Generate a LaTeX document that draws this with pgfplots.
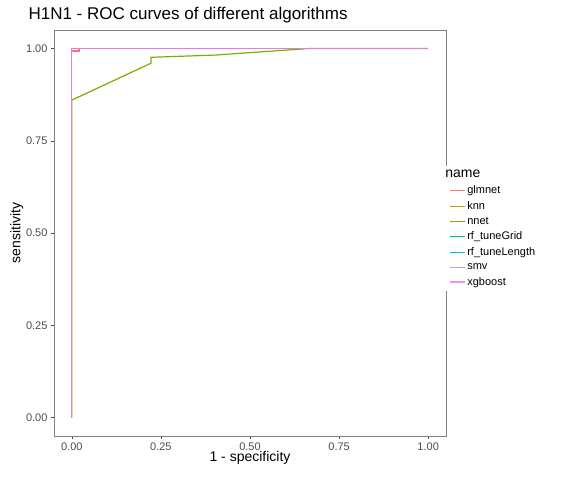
\documentclass[border=0pt]{standalone}
\usepackage{pgfplots}
\pgfplotsset{compat=1.18}
\usepackage{fontspec}
\setmainfont{Liberation Sans}
\definecolor{c1}{HTML}{F8766D}\definecolor{c2}{HTML}{C49A00}\definecolor{c3}{HTML}{7CAE00}
\definecolor{c4}{HTML}{00C08B}\definecolor{c5}{HTML}{00B4F0}\definecolor{c6}{HTML}{B79FFF}\definecolor{c7}{HTML}{F374DC}
\begin{document}
\begin{tikzpicture}[x=1pt,y=1pt]
\path[use as bounding box] (0,0) rectangle (576,480);
\begin{axis}[at={(54pt,44pt)},anchor=south west,scale only axis,width=392pt,height=406pt,
xmin=-0.05,xmax=1.05,ymin=-0.05,ymax=1.05,
xtick={0,0.25,0.5,0.75,1},ytick={0,0.25,0.5,0.75,1},
xticklabels={0.00,0.25,0.50,0.75,1.00},yticklabels={0.00,0.25,0.50,0.75,1.00},
xtick pos=bottom,ytick pos=left,
tick label style={font=\fontsize{11}{12}\selectfont,text=black!70},
tick align=outside,major tick length=3pt,tick style={black!70},
axis line style={black!50},
xlabel={1 - specificity},ylabel={sensitivity},
label style={font=\fontsize{14}{15}\selectfont},
xlabel style={yshift=6pt},ylabel style={yshift=-4pt},
title={H1N1 - ROC curves of different algorithms},
title style={font=\fontsize{17}{18}\selectfont,at={(0,1)},anchor=south west,xshift=-29pt,yshift=-3pt},
legend style={at={(1.0,0.665)},anchor=north west,draw=none,font=\fontsize{11}{12}\selectfont,row sep=2.3pt},
legend cell align=left,legend image post style={line width=1.1pt},
legend image code/.code={\draw[#1,line width=1.1pt](0pt,0pt)--(15pt,0pt);}]
\addlegendimage{empty legend}\addlegendentry{\hspace{-22pt}\fontsize{14}{15}\selectfont name}
\addplot[c1,line width=1.2pt] coordinates {(0,0)(0,0.993)(0.02,0.993)(0.02,1)(1,1)};\addlegendentry{glmnet}
\addplot[c2,line width=1.2pt] coordinates {(0,0)(0,1)(1,1)};\addlegendentry{knn}
\addplot[c3,line width=1.2pt] coordinates {(0,0)(0,0.86)(0.222,0.96)(0.222,0.976)(0.4,0.982)(0.667,1)(1,1)};\addlegendentry{nnet}
\addplot[c4,line width=1.2pt] coordinates {(0,0)(0,1)(1,1)};\addlegendentry{rf\_tuneGrid}
\addplot[c5,line width=1.2pt] coordinates {(0,0)(0,1)(1,1)};\addlegendentry{rf\_tuneLength}
\addplot[c6,line width=1.2pt] coordinates {(0,0)(0,1)(1,1)};\addlegendentry{smv}
\addplot[c7,opacity=0.8,line width=1.2pt] coordinates {(0,0)(0,1)(1,1)};\addlegendentry{xgboost}
\end{axis}
\end{tikzpicture}
\end{document}
